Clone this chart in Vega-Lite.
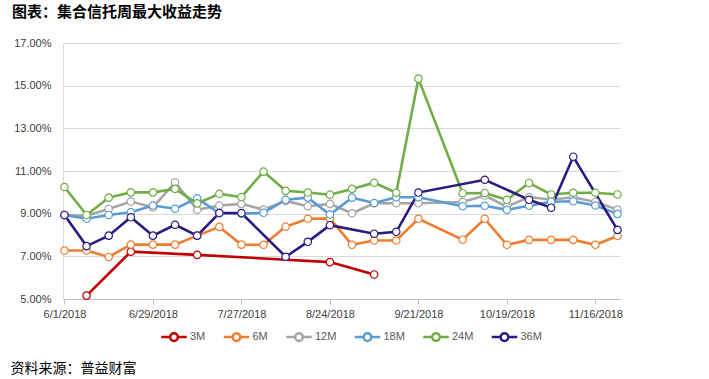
{
 "$schema": "https://vega.github.io/schema/vega-lite/v6.json",
 "width": 557,
 "height": 256,
 "autosize": {"type": "none"},
 "padding": {"left": 63, "top": 43, "right": 89, "bottom": 80},
 "background": "white",
 "title": {"text": "图表：集合信托周最大收益走势", "anchor": "start", "frame": "group", "dx": -51, "offset": 17, "fontSize": 15, "fontWeight": "bold", "font": "Noto Sans CJK SC", "color": "#000000"},
 "data": {"values": [
  {"d":"2018-06-08T00:00:00","s":"3M","v":5.16},
  {"d":"2018-06-22T00:00:00","s":"3M","v":7.22},
  {"d":"2018-07-13T00:00:00","s":"3M","v":7.07},
  {"d":"2018-08-24T00:00:00","s":"3M","v":6.73},
  {"d":"2018-09-07T00:00:00","s":"3M","v":6.15},

  {"d":"2018-06-01T00:00:00","s":"6M","v":7.27},
  {"d":"2018-06-08T00:00:00","s":"6M","v":7.27},
  {"d":"2018-06-15T00:00:00","s":"6M","v":6.97},
  {"d":"2018-06-22T00:00:00","s":"6M","v":7.55},
  {"d":"2018-06-29T00:00:00","s":"6M","v":7.55},
  {"d":"2018-07-06T00:00:00","s":"6M","v":7.55},
  {"d":"2018-07-13T00:00:00","s":"6M","v":7.97},
  {"d":"2018-07-20T00:00:00","s":"6M","v":8.38},
  {"d":"2018-07-27T00:00:00","s":"6M","v":7.55},
  {"d":"2018-08-03T00:00:00","s":"6M","v":7.54},
  {"d":"2018-08-10T00:00:00","s":"6M","v":8.39},
  {"d":"2018-08-17T00:00:00","s":"6M","v":8.76},
  {"d":"2018-08-24T00:00:00","s":"6M","v":8.78},
  {"d":"2018-08-31T00:00:00","s":"6M","v":7.54},
  {"d":"2018-09-07T00:00:00","s":"6M","v":7.74},
  {"d":"2018-09-14T00:00:00","s":"6M","v":7.74},
  {"d":"2018-09-21T00:00:00","s":"6M","v":8.76},
  {"d":"2018-10-05T00:00:00","s":"6M","v":7.78},
  {"d":"2018-10-12T00:00:00","s":"6M","v":8.76},
  {"d":"2018-10-19T00:00:00","s":"6M","v":7.54},
  {"d":"2018-10-26T00:00:00","s":"6M","v":7.77},
  {"d":"2018-11-02T00:00:00","s":"6M","v":7.77},
  {"d":"2018-11-09T00:00:00","s":"6M","v":7.77},
  {"d":"2018-11-16T00:00:00","s":"6M","v":7.54},
  {"d":"2018-11-23T00:00:00","s":"6M","v":7.95},

  {"d":"2018-06-01T00:00:00","s":"12M","v":8.94},
  {"d":"2018-06-08T00:00:00","s":"12M","v":8.9},
  {"d":"2018-06-15T00:00:00","s":"12M","v":9.22},
  {"d":"2018-06-22T00:00:00","s":"12M","v":9.57},
  {"d":"2018-06-29T00:00:00","s":"12M","v":9.3},
  {"d":"2018-07-06T00:00:00","s":"12M","v":10.47},
  {"d":"2018-07-13T00:00:00","s":"12M","v":9.18},
  {"d":"2018-07-20T00:00:00","s":"12M","v":9.38},
  {"d":"2018-07-27T00:00:00","s":"12M","v":9.46},
  {"d":"2018-08-03T00:00:00","s":"12M","v":9.19},
  {"d":"2018-08-10T00:00:00","s":"12M","v":9.6},
  {"d":"2018-08-17T00:00:00","s":"12M","v":9.35},
  {"d":"2018-08-24T00:00:00","s":"12M","v":9.46},
  {"d":"2018-08-31T00:00:00","s":"12M","v":9.02},
  {"d":"2018-09-07T00:00:00","s":"12M","v":9.49},
  {"d":"2018-09-14T00:00:00","s":"12M","v":9.49},
  {"d":"2018-09-21T00:00:00","s":"12M","v":9.49},
  {"d":"2018-10-05T00:00:00","s":"12M","v":9.55},
  {"d":"2018-10-12T00:00:00","s":"12M","v":9.85},
  {"d":"2018-10-19T00:00:00","s":"12M","v":9.33},
  {"d":"2018-10-26T00:00:00","s":"12M","v":9.78},
  {"d":"2018-11-02T00:00:00","s":"12M","v":9.65},
  {"d":"2018-11-09T00:00:00","s":"12M","v":9.77},
  {"d":"2018-11-16T00:00:00","s":"12M","v":9.55},
  {"d":"2018-11-23T00:00:00","s":"12M","v":9.19},

  {"d":"2018-06-01T00:00:00","s":"18M","v":8.94},
  {"d":"2018-06-08T00:00:00","s":"18M","v":8.76},
  {"d":"2018-06-15T00:00:00","s":"18M","v":8.94},
  {"d":"2018-06-22T00:00:00","s":"18M","v":9.07},
  {"d":"2018-06-29T00:00:00","s":"18M","v":9.38},
  {"d":"2018-07-06T00:00:00","s":"18M","v":9.23},
  {"d":"2018-07-13T00:00:00","s":"18M","v":9.72},
  {"d":"2018-07-20T00:00:00","s":"18M","v":9.02},
  {"d":"2018-07-27T00:00:00","s":"18M","v":9.0},
  {"d":"2018-08-03T00:00:00","s":"18M","v":9.04},
  {"d":"2018-08-10T00:00:00","s":"18M","v":9.65},
  {"d":"2018-08-17T00:00:00","s":"18M","v":9.75},
  {"d":"2018-08-24T00:00:00","s":"18M","v":8.96},
  {"d":"2018-08-31T00:00:00","s":"18M","v":9.75},
  {"d":"2018-09-07T00:00:00","s":"18M","v":9.5},
  {"d":"2018-09-14T00:00:00","s":"18M","v":9.77},
  {"d":"2018-09-21T00:00:00","s":"18M","v":9.77},
  {"d":"2018-10-05T00:00:00","s":"18M","v":9.35},
  {"d":"2018-10-12T00:00:00","s":"18M","v":9.37},
  {"d":"2018-10-19T00:00:00","s":"18M","v":9.18},
  {"d":"2018-10-26T00:00:00","s":"18M","v":9.37},
  {"d":"2018-11-02T00:00:00","s":"18M","v":9.56},
  {"d":"2018-11-09T00:00:00","s":"18M","v":9.58},
  {"d":"2018-11-16T00:00:00","s":"18M","v":9.38},
  {"d":"2018-11-23T00:00:00","s":"18M","v":8.99},

  {"d":"2018-06-01T00:00:00","s":"24M","v":10.25},
  {"d":"2018-06-08T00:00:00","s":"24M","v":8.94},
  {"d":"2018-06-15T00:00:00","s":"24M","v":9.75},
  {"d":"2018-06-22T00:00:00","s":"24M","v":10.0},
  {"d":"2018-06-29T00:00:00","s":"24M","v":10.0},
  {"d":"2018-07-06T00:00:00","s":"24M","v":10.16},
  {"d":"2018-07-13T00:00:00","s":"24M","v":9.48},
  {"d":"2018-07-20T00:00:00","s":"24M","v":9.93},
  {"d":"2018-07-27T00:00:00","s":"24M","v":9.78},
  {"d":"2018-08-03T00:00:00","s":"24M","v":10.97},
  {"d":"2018-08-10T00:00:00","s":"24M","v":10.07},
  {"d":"2018-08-17T00:00:00","s":"24M","v":9.99},
  {"d":"2018-08-24T00:00:00","s":"24M","v":9.89},
  {"d":"2018-08-31T00:00:00","s":"24M","v":10.16},
  {"d":"2018-09-07T00:00:00","s":"24M","v":10.45},
  {"d":"2018-09-14T00:00:00","s":"24M","v":9.98},
  {"d":"2018-09-21T00:00:00","s":"24M","v":15.33},
  {"d":"2018-10-05T00:00:00","s":"24M","v":9.96},
  {"d":"2018-10-12T00:00:00","s":"24M","v":9.97},
  {"d":"2018-10-19T00:00:00","s":"24M","v":9.65},
  {"d":"2018-10-26T00:00:00","s":"24M","v":10.44},
  {"d":"2018-11-02T00:00:00","s":"24M","v":9.9},
  {"d":"2018-11-09T00:00:00","s":"24M","v":9.98},
  {"d":"2018-11-16T00:00:00","s":"24M","v":9.98},
  {"d":"2018-11-23T00:00:00","s":"24M","v":9.9},

  {"d":"2018-06-01T00:00:00","s":"36M","v":8.94},
  {"d":"2018-06-08T00:00:00","s":"36M","v":7.48},
  {"d":"2018-06-15T00:00:00","s":"36M","v":7.97},
  {"d":"2018-06-22T00:00:00","s":"36M","v":8.83},
  {"d":"2018-06-29T00:00:00","s":"36M","v":7.97},
  {"d":"2018-07-06T00:00:00","s":"36M","v":8.48},
  {"d":"2018-07-13T00:00:00","s":"36M","v":7.97},
  {"d":"2018-07-20T00:00:00","s":"36M","v":9.03},
  {"d":"2018-07-27T00:00:00","s":"36M","v":9.03},
  {"d":"2018-08-10T00:00:00","s":"36M","v":6.98},
  {"d":"2018-08-17T00:00:00","s":"36M","v":7.68},
  {"d":"2018-08-24T00:00:00","s":"36M","v":8.46},
  {"d":"2018-09-07T00:00:00","s":"36M","v":8.06},
  {"d":"2018-09-14T00:00:00","s":"36M","v":8.15},
  {"d":"2018-09-21T00:00:00","s":"36M","v":9.99},
  {"d":"2018-10-12T00:00:00","s":"36M","v":10.59},
  {"d":"2018-10-26T00:00:00","s":"36M","v":9.65},
  {"d":"2018-11-02T00:00:00","s":"36M","v":9.28},
  {"d":"2018-11-09T00:00:00","s":"36M","v":11.67},
  {"d":"2018-11-23T00:00:00","s":"36M","v":8.24}
 ]},
 "mark": {"type": "line", "strokeWidth": 2.6, "point": {"filled": false, "fill": "white", "size": 55, "strokeWidth": 1.2}},
 "encoding": {
  "x": {
   "field": "d", "type": "temporal",
   "scale": {"domain": [{"year": 2018, "month": 5, "date": 31, "hours": 13}, {"year": 2018, "month": 11, "date": 23, "hours": 19}]},
   "axis": {
    "values": [
     {"year": 2018, "month": 6, "date": 1},
     {"year": 2018, "month": 6, "date": 29},
     {"year": 2018, "month": 7, "date": 27},
     {"year": 2018, "month": 8, "date": 24},
     {"year": 2018, "month": 9, "date": 21},
     {"year": 2018, "month": 10, "date": 19},
     {"year": 2018, "month": 11, "date": 16}
    ],
    "format": "%-m/%-d/%Y",
    "grid": false,
    "labelFont": "Liberation Sans", "labelFontSize": 11, "labelColor": "#404040", "labelPadding": 4,
    "tickSize": 5, "tickColor": "#BFBFBF", "domainColor": "#BFBFBF", "domainWidth": 1,
    "title": "资料来源：普益财富",
    "titleAnchor": "start", "titleAlign": "left", "titleX": -53, "titleY": 69, "titleBaseline": "middle",
    "titleFont": "Noto Sans CJK SC", "titleFontSize": 14, "titleFontWeight": "normal", "titleColor": "#000000"
   }
  },
  "y": {
   "field": "v", "type": "quantitative",
   "scale": {"domain": [5, 17], "nice": false, "zero": false},
   "axis": {
    "values": [5, 7, 9, 11, 13, 15, 17],
    "labelExpr": "format(datum.value, '.2f') + '%'",
    "grid": true, "gridColor": "#D9D9D9", "gridWidth": 1,
    "domain": true, "domainColor": "#D9D9D9",
    "ticks": false, "labelPadding": 12,
    "labelFont": "Liberation Sans", "labelFontSize": 11, "labelColor": "#404040",
    "title": null
   }
  },
  "color": {
   "field": "s", "type": "nominal",
   "scale": {"domain": ["3M", "6M", "12M", "18M", "24M", "36M"], "range": ["#C00000", "#ED7D31", "#A5A5A5", "#5B9BD5", "#70AD47", "#2B1B7E"]},
   "legend": {
    "orient": "none", "legendX": 97, "legendY": 280, "direction": "horizontal", "title": null,
    "labelFont": "Liberation Sans", "labelFontSize": 11, "labelColor": "#595959", "labelOffset": 2,
    "symbolType": "M-1,0H-0.3M0.3,0H1M0.3,0A0.3,0.3,0,1,1,-0.3,0A0.3,0.3,0,1,1,0.3,0Z",
    "symbolSize": 650, "symbolStrokeWidth": 2.5, "symbolFillColor": "white", "columnPadding": 12.5
   }
  }
 },
 "config": {"view": {"stroke": null}}
}
